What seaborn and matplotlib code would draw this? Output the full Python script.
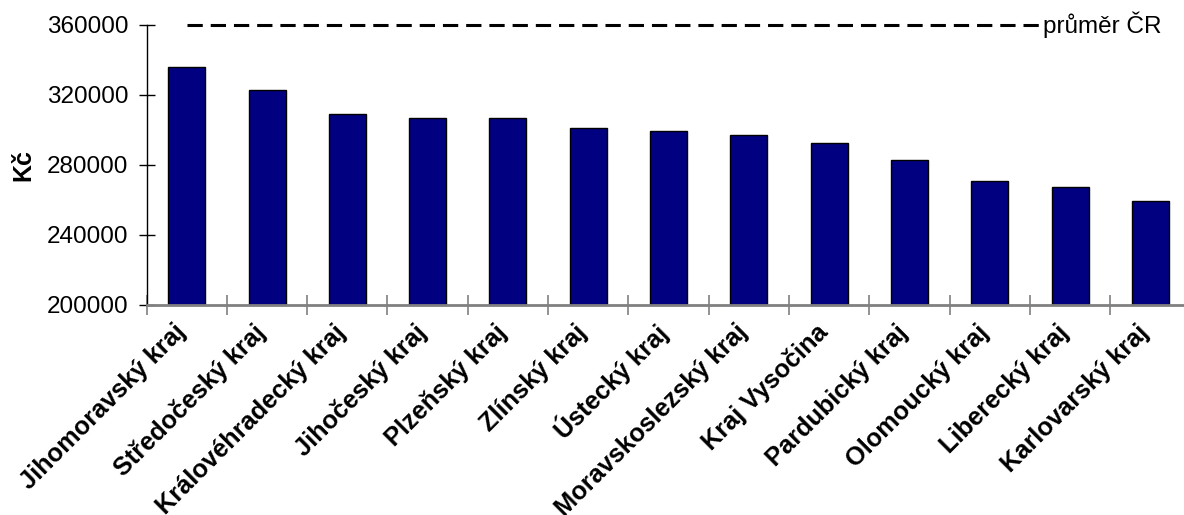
import numpy as np
import pandas as pd
import seaborn as sns
import matplotlib.pyplot as plt
from matplotlib.transforms import ScaledTranslation

# Data
regions = ['Jihomoravský kraj', 'Středočeský kraj', 'Královéhradecký kraj', 'Jihočeský kraj',
           'Plzeňský kraj', 'Zlínský kraj', 'Ústecký kraj', 'Moravskoslezský kraj',
           'Kraj Vysočina', 'Pardubický kraj', 'Olomoucký kraj', 'Liberecký kraj',
           'Karlovarský kraj']
values = [336200, 323000, 309100, 306900, 306900, 301300, 299200, 297100,
          292800, 283000, 271000, 267600, 259200]
cr_average = 360000
avg_label = 'průměr ČR'
y_ticks = [200000, 240000, 280000, 320000, 360000]

df = pd.DataFrame({'Kraj': regions, 'Kč': values})

sns.set_style("white")
plt.rcParams['font.family'] = ['Liberation Sans', 'DejaVu Sans']
plt.rcParams['text.color'] = 'black'
plt.rcParams['axes.labelcolor'] = 'black'
plt.rcParams['xtick.color'] = 'black'
plt.rcParams['ytick.color'] = 'black'

fig = plt.figure(figsize=(11.84, 5.15), dpi=100)
ax = fig.add_axes([0.1238, 0.4078, 0.8817, 0.5437])

sns.barplot(data=df, x='Kraj', y='Kč', color='#000080', saturation=1,
            edgecolor='black', linewidth=1, width=0.46, ax=ax)

n = len(regions)
pos = np.arange(n)
ax.plot(pos, [cr_average] * n, color='black', lw=2.2, dashes=(5, 2.6), clip_on=False, zorder=5)
ax.text(10.66, cr_average, avg_label, ha='left', va='center', fontsize=17.5,
        bbox=dict(facecolor='white', edgecolor='none', pad=2), zorder=6, clip_on=False)

ax.set_xlim(-0.5, n - 0.5)
ax.set_ylim(y_ticks[0], y_ticks[-1])
ax.set_yticks(y_ticks)
ax.set_yticklabels([str(v) for v in y_ticks], fontsize=17.5)
ax.tick_params(axis='y', left=True, direction='inout', length=12, width=1,
               color='black', labelcolor='black', pad=7)

# category boundaries as major ticks, labels on minor ticks at centres
ax.set_xticks(np.arange(n + 1) - 0.5)
ax.set_xticklabels([])
ax.tick_params(axis='x', which='major', bottom=True, direction='inout', length=15,
               width=1.2, color='#808080')
ax.set_xticks(pos, minor=True)
ax.set_xticklabels(regions, minor=True, rotation=45, ha='right', va='center',
                   rotation_mode='anchor', fontsize=18.3, fontweight='bold', color='black')
ax.tick_params(axis='x', which='minor', bottom=True, length=0, pad=17)
shift = ScaledTranslation(-5 / 100, 0, fig.dpi_scale_trans)
for lbl in ax.get_xticklabels(minor=True):
    lbl.set_transform(lbl.get_transform() + shift)

ax.set_xlabel('')
ax.set_ylabel('Kč', fontsize=18, fontweight='bold', labelpad=8)

for s in ['top', 'right']:
    ax.spines[s].set_visible(False)
ax.spines['left'].set_color('black')
ax.spines['left'].set_linewidth(1)
ax.spines['bottom'].set_color('#808080')
ax.spines['bottom'].set_linewidth(2)

fig.savefig('out.png', dpi=100)
